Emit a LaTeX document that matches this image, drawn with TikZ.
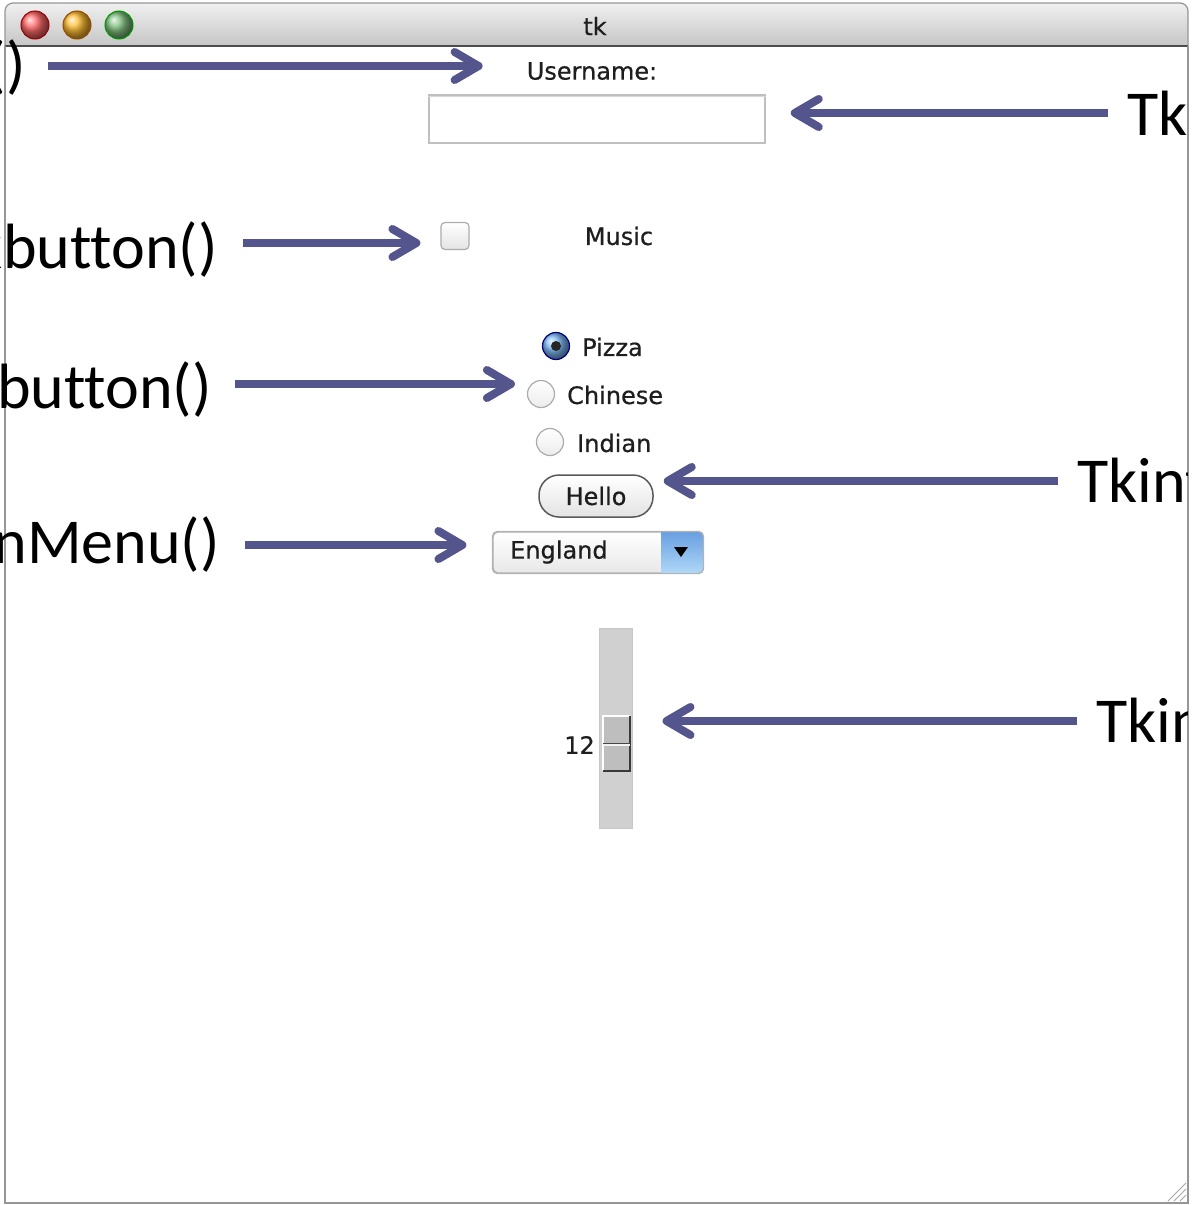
\documentclass[tikz,border=0pt]{standalone}
\usepackage{fontspec}
\setmainfont{Carlito}[Ligatures=NoCommon]
\newfontfamily\guifont{DejaVu Sans}[FakeBold=0.6]
\usetikzlibrary{arrows.meta,positioning,calc,shadings}

\definecolor{callblue}{RGB}{83,85,140}
\definecolor{framegray}{RGB}{150,150,150}
\definecolor{guitext}{RGB}{30,30,30}
\definecolor{troughgray}{RGB}{208,208,208}
\definecolor{handlegray}{RGB}{190,190,190}
\definecolor{optbluetop}{RGB}{105,160,225}
\definecolor{optbluebot}{RGB}{175,215,248}
\definecolor{radioblue}{RGB}{125,185,245}

\tikzset{
  callout/.style={line width=8pt,color=callblue,-{Straight Barb[length=24pt,width=28pt,round]}},
  codelabel/.style={font=\fontsize{64}{76}\selectfont,inner sep=0pt},
  guitxt/.style={font=\guifont\fontsize{24}{28}\selectfont,text=guitext,inner sep=0pt},
  radio/.style={circle,draw=gray!65,line width=1.2pt,minimum size=27pt,inner sep=0pt,top color=white,bottom color=gray!15},
  light/.style={shading=ball,draw=#1!60!black,line width=1pt},
}

\begin{document}
\begin{tikzpicture}[x=1pt,y=-1pt]
\useasboundingbox (0,0) rectangle (1192,1205);
\clip (0,0) rectangle (1192,1205);
\fill[white] (0,0) rectangle (1192,1205);

% window
\shade[top color=gray!12,bottom color=gray!45] (5,46) -- (5,11) arc[start angle=180,end angle=270,radius=8] -- (1180,3) arc[start angle=270,end angle=360,radius=8] -- (1188,46) -- cycle;
\draw[framegray,line width=1.2pt] (5,46) -- (5,11) arc[start angle=180,end angle=270,radius=8] -- (1180,3) arc[start angle=270,end angle=360,radius=8] -- (1188,46);
\draw[gray!60!black,line width=1.5pt] (5,46) -- (1188,46);
\draw[framegray,line width=1.5pt] (5,46) -- (5,1203) -- (1188,1203) -- (1188,46);
\shadedraw[light=red,ball color=red!60!white] (35,25) circle (14);
\shadedraw[light=orange,ball color=orange!65!yellow!80!white] (77,25) circle (14);
\shadedraw[light=green,ball color=green!50!black!50!white] (119,25) circle (14);
\node[guitxt] (title) at (595,26) {tk};

% resize grip
\foreach \d in {0,6,12}
  \draw[gray!70,line width=1pt] (1168+\d,1201) -- (1186,1183+\d);

% widgets
\node[guitxt] (uname) at (592,71) {Username:};
\node[draw=gray!50,line width=1.5pt,minimum width=336pt,minimum height=48pt,inner sep=0pt] (entry) at (597,119) {};
\draw[gray!30,line width=1.5pt] ([yshift=-2pt]entry.north west) -- ([yshift=-2pt]entry.north east);

\node[draw=gray!65,line width=1.2pt,rounded corners=4pt,minimum width=28pt,minimum height=27pt,inner sep=0pt,top color=white,bottom color=gray!22] (chk) at (455,236) {};
\node[guitxt] (music) at (619,236) {Music};

\node[radio,draw=blue!50!black,shading=ball,ball color=radioblue] (rpizza) at (556,346) {};
\fill[black!85] (rpizza) circle (5);
\node[guitxt,anchor=west] (tpizza) at (582,347) {Pizza};
\node[radio] (rchinese) at (541,394) {};
\node[guitxt,anchor=west] (tchinese) at (567,395) {Chinese};
\node[radio] (rindian) at (550,442) {};
\node[guitxt,anchor=west] (tindian) at (577,443) {Indian};

\node[guitxt,draw=gray!70!black,line width=1.5pt,rounded corners=20pt,minimum width=114pt,minimum height=42pt,top color=white,bottom color=gray!22] (hello) at (596,496) {Hello};

\node[draw=gray!60,line width=1.2pt,rounded corners=5pt,minimum width=210pt,minimum height=41pt,inner sep=0pt,top color=white,bottom color=gray!18] (opt) at (598,552.5) {};
\begin{scope}
\clip (661,530) rectangle (710,576);
\shade[top color=optbluetop,bottom color=optbluebot,rounded corners=5pt] (640,532) rectangle (703,573);
\end{scope}
\draw[gray!60,line width=1.2pt,rounded corners=5pt] (opt.north west) rectangle (opt.south east);
\fill[black] (674,547) -- (688,547) -- (681,557) -- cycle;
\node[guitxt,anchor=west] (england) at (510,552) {England};

\node[fill=troughgray,draw=gray!45,line width=1pt,minimum width=33pt,minimum height=200pt,inner sep=0pt] (trough) at (615.5,728) {};
\node[fill=handlegray,minimum width=27pt,minimum height=55pt,inner sep=0pt] (handle) at (616.5,743.5) {};
\draw[white,line width=2pt] (handle.south west) |- (handle.north east);
\draw[gray!45!black,line width=2pt] (handle.south west) -| (handle.north east);
\draw[gray!55!black,line width=1.5pt] (handle.west) -- (handle.east);
\draw[white!90!gray,line width=1.5pt] ([yshift=-1.5pt]handle.west) -- ([yshift=-1.5pt]handle.east);
\node[guitxt,anchor=east] (value) at (595,745) {12};

% labels
\node[codelabel,anchor=base east] (lbltop) at (26,86) {()};
\node[codelabel,anchor=base east] (lblchk) at (218,268) {kbutton()};
\node[codelabel,anchor=base east] (lblrad) at (212,408) {button()};
\node[codelabel,anchor=base east] (lblopt) at (220,563) {nMenu()};
\begin{scope}
\clip (0,0) rectangle (1187,1205);
\node[codelabel,anchor=base west] (lblent) at (1127,135) {Tk};
\node[codelabel,anchor=base west] (lblbtn) at (1077,502) {Tkint};
\node[codelabel,anchor=base west] (lblscl) at (1096,742) {Tkin};
\end{scope}

% callouts
\coordinate (a1) at ($(lbltop.base east)+(22,-20)$);
\coordinate (a2) at ($(lblent.base west)+(-19,-22)$);
\coordinate (a3) at ($(lblchk.base east)+(25,-25)$);
\coordinate (a4) at ($(lblrad.base east)+(23,-24)$);
\coordinate (a5) at ($(lblbtn.base west)+(-19,-21)$);
\coordinate (a6) at ($(lblopt.base east)+(25,-18)$);
\coordinate (a7) at ($(lblscl.base west)+(-19,-21)$);
\draw[callout] (a1) -- ($(a1 -| uname.west)+(-44,0)$);
\draw[callout] (a2) -- ($(a2 -| entry.east)+(25,0)$);
\draw[callout] (a3) -- ($(a3 -| chk.west)+(-20,0)$);
\draw[callout] (a4) -- ($(a4 -| rchinese.west)+(-12,0)$);
\draw[callout] (a5) -- ($(a5 -| hello.east)+(10,0)$);
\draw[callout] (a6) -- ($(a6 -| opt.west)+(-26,0)$);
\draw[callout] (a7) -- ($(a7 -| trough.east)+(30,0)$);
\end{tikzpicture}
\end{document}
